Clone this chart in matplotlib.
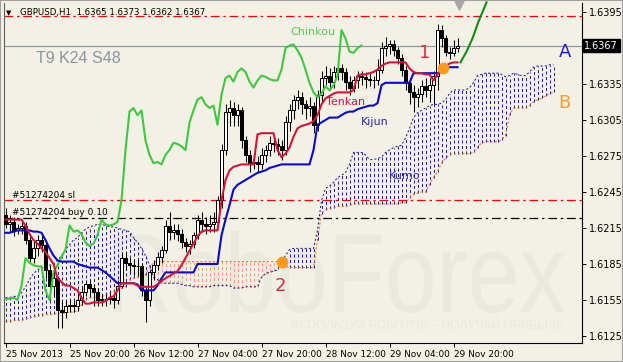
import numpy as np
import matplotlib
matplotlib.use("Agg")
import matplotlib.pyplot as plt
from matplotlib.textpath import TextPath
from matplotlib.patches import PathPatch
from matplotlib.font_manager import FontProperties
from matplotlib.transforms import Affine2D

W, H = 623, 362
BG = "#f3f1e5"
WM = "#eae9de"

# --- GBPUSD H1 candles ---
opens = np.array([
    1.6226, 1.6218, 1.6220, 1.6213, 1.6215, 1.6217, 1.6205, 1.6190, 1.6198, 1.6205,
    1.6201, 1.6180, 1.6167, 1.6173, 1.6147, 1.6145, 1.6150, 1.6151, 1.6150, 1.6155,
    1.6162, 1.6168, 1.6165, 1.6162, 1.6155, 1.6156, 1.6156, 1.6157, 1.6155, 1.6167,
    1.6190, 1.6186, 1.6184, 1.6183, 1.6183, 1.6163, 1.6155, 1.6178, 1.6184, 1.6191,
    1.6197, 1.6217, 1.6212, 1.6213, 1.6210, 1.6203, 1.6200, 1.6202, 1.6209, 1.6222,
    1.6218, 1.6217, 1.6218, 1.6220, 1.6238, 1.6280, 1.6312, 1.6315, 1.6309, 1.6313,
    1.6288, 1.6276, 1.6269, 1.6270, 1.6268, 1.6276, 1.6280, 1.6286, 1.6285, 1.6283,
    1.6280, 1.6303, 1.6313, 1.6322, 1.6324, 1.6318, 1.6315, 1.6317, 1.6301, 1.6326,
    1.6340, 1.6342, 1.6337, 1.6345, 1.6348, 1.6345, 1.6337, 1.6332, 1.6338, 1.6342,
    1.6341, 1.6339, 1.6338, 1.6338, 1.6347, 1.6365, 1.6367, 1.6368, 1.6363, 1.6357,
    1.6347, 1.6336, 1.6328, 1.6324, 1.6327, 1.6333, 1.6330, 1.6334, 1.6342, 1.6380,
    1.6373, 1.6362, 1.6361, 1.6365])
closes = np.array([
    1.6218, 1.6220, 1.6213, 1.6215, 1.6217, 1.6205, 1.6190, 1.6198, 1.6205, 1.6201,
    1.6180, 1.6167, 1.6173, 1.6147, 1.6145, 1.6150, 1.6151, 1.6150, 1.6155, 1.6162,
    1.6168, 1.6165, 1.6162, 1.6155, 1.6156, 1.6156, 1.6157, 1.6155, 1.6167, 1.6190,
    1.6186, 1.6184, 1.6183, 1.6183, 1.6163, 1.6155, 1.6178, 1.6184, 1.6191, 1.6197,
    1.6217, 1.6212, 1.6213, 1.6210, 1.6203, 1.6200, 1.6202, 1.6209, 1.6222, 1.6218,
    1.6217, 1.6218, 1.6220, 1.6238, 1.6280, 1.6312, 1.6315, 1.6309, 1.6313, 1.6288,
    1.6276, 1.6269, 1.6270, 1.6268, 1.6276, 1.6280, 1.6286, 1.6285, 1.6283, 1.6280,
    1.6303, 1.6313, 1.6322, 1.6324, 1.6318, 1.6315, 1.6317, 1.6301, 1.6326, 1.6340,
    1.6342, 1.6337, 1.6345, 1.6348, 1.6345, 1.6337, 1.6332, 1.6338, 1.6342, 1.6341,
    1.6339, 1.6338, 1.6338, 1.6347, 1.6365, 1.6367, 1.6368, 1.6363, 1.6357, 1.6347,
    1.6336, 1.6328, 1.6324, 1.6327, 1.6333, 1.6330, 1.6334, 1.6342, 1.6380, 1.6373,
    1.6362, 1.6361, 1.6365, 1.6367])
highs = np.array([
    1.6232, 1.6226, 1.6224, 1.6218, 1.6220, 1.6220, 1.6208, 1.6204, 1.6209, 1.6210,
    1.6203, 1.6184, 1.6180, 1.6175, 1.6155, 1.6155, 1.6155, 1.6155, 1.6160, 1.6166,
    1.6172, 1.6172, 1.6168, 1.6165, 1.6160, 1.6160, 1.6162, 1.6160, 1.6172, 1.6195,
    1.6195, 1.6190, 1.6188, 1.6188, 1.6186, 1.6166, 1.6180, 1.6188, 1.6195, 1.6200,
    1.6222, 1.6228, 1.6218, 1.6218, 1.6214, 1.6207, 1.6205, 1.6212, 1.6226, 1.6228,
    1.6224, 1.6226, 1.6228, 1.6242, 1.6285, 1.6318, 1.6322, 1.6320, 1.6318, 1.6316,
    1.6292, 1.6280, 1.6276, 1.6275, 1.6282, 1.6284, 1.6292, 1.6292, 1.6290, 1.6288,
    1.6308, 1.6318, 1.6326, 1.6330, 1.6328, 1.6322, 1.6324, 1.6320, 1.6330, 1.6346,
    1.6350, 1.6348, 1.6350, 1.6354, 1.6352, 1.6348, 1.6342, 1.6342, 1.6346, 1.6346,
    1.6345, 1.6344, 1.6342, 1.6356, 1.6370, 1.6374, 1.6372, 1.6372, 1.6366, 1.6360,
    1.6350, 1.6340, 1.6334, 1.6332, 1.6338, 1.6340, 1.6340, 1.6346, 1.6385, 1.6384,
    1.6376, 1.6366, 1.6372, 1.6373])
lows = np.array([
    1.6215, 1.6212, 1.6208, 1.6210, 1.6210, 1.6202, 1.6186, 1.6186, 1.6192, 1.6195,
    1.6173, 1.6155, 1.6158, 1.6132, 1.6132, 1.6140, 1.6145, 1.6145, 1.6146, 1.6151,
    1.6158, 1.6158, 1.6150, 1.6150, 1.6150, 1.6150, 1.6152, 1.6148, 1.6152, 1.6165,
    1.6180, 1.6178, 1.6176, 1.6176, 1.6158, 1.6137, 1.6150, 1.6172, 1.6180, 1.6186,
    1.6194, 1.6205, 1.6206, 1.6204, 1.6198, 1.6195, 1.6193, 1.6198, 1.6206, 1.6212,
    1.6210, 1.6212, 1.6212, 1.6216, 1.6232, 1.6276, 1.6300, 1.6300, 1.6300, 1.6282,
    1.6270, 1.6262, 1.6264, 1.6262, 1.6264, 1.6270, 1.6275, 1.6278, 1.6276, 1.6272,
    1.6276, 1.6296, 1.6306, 1.6314, 1.6310, 1.6306, 1.6308, 1.6294, 1.6296, 1.6320,
    1.6334, 1.6330, 1.6332, 1.6338, 1.6338, 1.6330, 1.6326, 1.6328, 1.6332, 1.6334,
    1.6332, 1.6333, 1.6332, 1.6334, 1.6344, 1.6358, 1.6360, 1.6358, 1.6352, 1.6342,
    1.6330, 1.6318, 1.6312, 1.6316, 1.6320, 1.6324, 1.6320, 1.6318, 1.6330, 1.6366,
    1.6358, 1.6356, 1.6358, 1.6362])

# --- Ichimoku (9, 24, 48) ---
tenkan = np.array([
    1.6222, 1.6222, 1.6222, 1.6222, 1.6222, 1.6217, 1.6210, 1.6205, 1.6202, 1.6198,
    1.6195, 1.6190, 1.6185, 1.6173, 1.6170, 1.6167, 1.6167, 1.6165, 1.6163, 1.6157,
    1.6152, 1.6152, 1.6153, 1.6153, 1.6153, 1.6154, 1.6157, 1.6158, 1.6163, 1.6169,
    1.6169, 1.6169, 1.6169, 1.6167, 1.6166, 1.6166, 1.6166, 1.6166, 1.6168, 1.6171,
    1.6173, 1.6175, 1.6177, 1.6179, 1.6184, 1.6190, 1.6196, 1.6202, 1.6208, 1.6212,
    1.6213, 1.6213, 1.6213, 1.6213, 1.6238, 1.6255, 1.6263, 1.6266, 1.6267, 1.6268,
    1.6268, 1.6268, 1.6268, 1.6293, 1.6294, 1.6294, 1.6294, 1.6294, 1.6280, 1.6274,
    1.6277, 1.6282, 1.6291, 1.6298, 1.6300, 1.6301, 1.6302, 1.6304, 1.6309, 1.6318,
    1.6323, 1.6325, 1.6327, 1.6328, 1.6328, 1.6328, 1.6328, 1.6330, 1.6342, 1.6343,
    1.6343, 1.6344, 1.6345, 1.6347, 1.6350, 1.6352, 1.6353, 1.6353, 1.6353, 1.6353,
    1.6353, 1.6348, 1.6345, 1.6344, 1.6344, 1.6343, 1.6343, 1.6338, 1.6343, 1.6348,
    1.6350, 1.6352, 1.6353, 1.6353])
kijun = np.array([
    1.6211, 1.6211, 1.6212, 1.6213, 1.6213, 1.6213, 1.6213, 1.6212, 1.6212, 1.6211,
    1.6205, 1.6198, 1.6192, 1.6188, 1.6187, 1.6187, 1.6187, 1.6187, 1.6185, 1.6184,
    1.6183, 1.6182, 1.6182, 1.6182, 1.6180, 1.6178, 1.6175, 1.6172, 1.6169, 1.6169,
    1.6169, 1.6169, 1.6169, 1.6168, 1.6163, 1.6163, 1.6163, 1.6163, 1.6167, 1.6173,
    1.6178, 1.6178, 1.6178, 1.6178, 1.6178, 1.6178, 1.6178, 1.6178, 1.6185, 1.6185,
    1.6185, 1.6185, 1.6185, 1.6185, 1.6209, 1.6222, 1.6234, 1.6247, 1.6251, 1.6253,
    1.6255, 1.6257, 1.6259, 1.6261, 1.6262, 1.6263, 1.6265, 1.6266, 1.6267, 1.6268,
    1.6268, 1.6268, 1.6268, 1.6268, 1.6268, 1.6268, 1.6268, 1.6280, 1.6301, 1.6303,
    1.6305, 1.6307, 1.6307, 1.6307, 1.6309, 1.6311, 1.6312, 1.6312, 1.6314, 1.6315,
    1.6316, 1.6317, 1.6317, 1.6319, 1.6334, 1.6336, 1.6336, 1.6336, 1.6336, 1.6336,
    1.6336, 1.6336, 1.6344, 1.6344, 1.6344, 1.6344, 1.6344, 1.6344, 1.6344, 1.6345,
    1.6348, 1.6349, 1.6349, 1.6349])
senkou_a = np.array([
    1.6157, 1.6157, 1.6158, 1.6158, 1.6161, 1.6166, 1.6172, 1.6177, 1.6180, 1.6182,
    1.6183, 1.6184, 1.6185, 1.6188, 1.6192, 1.6197, 1.6201, 1.6205, 1.6207, 1.6211,
    1.6214, 1.6216, 1.6217, 1.6218, 1.6218, 1.6217, 1.6216, 1.6216, 1.6215, 1.6214,
    1.6213, 1.6212, 1.6207, 1.6203, 1.6198, 1.6192, 1.6184, 1.6174, 1.6172, 1.6169,
    1.6169, 1.6169, 1.6169, 1.6169, 1.6168, 1.6167, 1.6167, 1.6166, 1.6166, 1.6166,
    1.6166, 1.6166, 1.6167, 1.6167, 1.6167, 1.6167, 1.6167, 1.6165, 1.6165, 1.6165,
    1.6166, 1.6166, 1.6166, 1.6166, 1.6174, 1.6177, 1.6178, 1.6179, 1.6180, 1.6187,
    1.6192, 1.6197, 1.6198, 1.6198, 1.6198, 1.6198, 1.6198, 1.6198, 1.6213, 1.6238,
    1.6248, 1.6250, 1.6253, 1.6257, 1.6259, 1.6261, 1.6268, 1.6278, 1.6278, 1.6278,
    1.6276, 1.6272, 1.6272, 1.6273, 1.6274, 1.6278, 1.6280, 1.6282, 1.6283, 1.6284,
    1.6290, 1.6298, 1.6307, 1.6311, 1.6313, 1.6315, 1.6317, 1.6318, 1.6318, 1.6319,
    1.6322, 1.6327, 1.6330, 1.6330, 1.6330, 1.6330, 1.6332, 1.6336, 1.6342, 1.6343,
    1.6344, 1.6344, 1.6344, 1.6344, 1.6343, 1.6341, 1.6342, 1.6344, 1.6343, 1.6342,
    1.6342, 1.6345, 1.6349, 1.6350, 1.6350, 1.6350, 1.6351, 1.6351])
senkou_b = np.array([
    1.6137, 1.6137, 1.6138, 1.6138, 1.6138, 1.6139, 1.6140, 1.6141, 1.6142, 1.6142,
    1.6143, 1.6143, 1.6143, 1.6144, 1.6144, 1.6144, 1.6145, 1.6145, 1.6146, 1.6151,
    1.6155, 1.6157, 1.6157, 1.6158, 1.6158, 1.6159, 1.6161, 1.6162, 1.6163, 1.6165,
    1.6166, 1.6172, 1.6173, 1.6174, 1.6174, 1.6176, 1.6182, 1.6186, 1.6187, 1.6187,
    1.6187, 1.6187, 1.6187, 1.6187, 1.6187, 1.6187, 1.6187, 1.6187, 1.6187, 1.6187,
    1.6187, 1.6187, 1.6187, 1.6187, 1.6187, 1.6187, 1.6187, 1.6187, 1.6187, 1.6187,
    1.6187, 1.6187, 1.6187, 1.6187, 1.6187, 1.6187, 1.6187, 1.6187, 1.6187, 1.6186,
    1.6183, 1.6182, 1.6182, 1.6182, 1.6182, 1.6182, 1.6182, 1.6182, 1.6205, 1.6227,
    1.6230, 1.6231, 1.6232, 1.6233, 1.6233, 1.6233, 1.6234, 1.6235, 1.6235, 1.6235,
    1.6235, 1.6235, 1.6235, 1.6235, 1.6235, 1.6235, 1.6235, 1.6235, 1.6235, 1.6236,
    1.6236, 1.6240, 1.6243, 1.6244, 1.6245, 1.6245, 1.6251, 1.6257, 1.6262, 1.6269,
    1.6273, 1.6276, 1.6277, 1.6277, 1.6277, 1.6277, 1.6277, 1.6278, 1.6282, 1.6286,
    1.6287, 1.6287, 1.6287, 1.6287, 1.6288, 1.6292, 1.6309, 1.6315, 1.6315, 1.6315,
    1.6315, 1.6317, 1.6320, 1.6322, 1.6323, 1.6325, 1.6327, 1.6328])
kijun_period = 24  # chinkou shift

# order levels and markers
tp_price = 1.6392
sl_price = 1.6238
buy_price = 1.6223
bid_price = 1.6367
signal_bars = [109.25, 69.0]
signal_prices = [1.6348, 1.6187]
forecast_bars = [113.75, 115.25, 116.75, 118.25, 120.25]
forecast_prices = [1.6353, 1.6362, 1.6373, 1.6387, 1.6403]

time_ticks = [0, 16, 32, 48, 64, 80, 96, 112]
time_labels = ["25 Nov 2013", "25 Nov 20:00", "26 Nov 12:00", "27 Nov 04:00",
               "27 Nov 20:00", "28 Nov 12:00", "29 Nov 04:00", "29 Nov 20:00"]
price_ticks = [1.6395, 1.6335, 1.6305, 1.6275, 1.6245, 1.6215, 1.6185, 1.6155, 1.6125]

# ---------------------------------------------------------------
fig = plt.figure(figsize=(W / 100, H / 100), dpi=100, facecolor=BG)
ax = fig.add_axes([4 / W, (H - 343) / H, 578 / W, 340 / H])
ax.set_facecolor(BG)
# 4 px per bar, bar centres on pixel centres
ax.set_xlim(-0.375, 144.125)
ax.set_ylim(1.611917, 1.64025)

# watermark (narrowed Liberation Sans, placed in pixels)
wm = TextPath((0, 0), "RoboForex", size=112, prop=FontProperties(family="Liberation Sans"))
ext = wm.get_extents()
sx = 452 / ext.width
ax.add_patch(PathPatch(wm, transform=Affine2D().scale(sx, 1).translate(113 - ext.x0 * sx, H - 312),
                       facecolor=WM, edgecolor="none", zorder=0.5, clip_on=False))
fig.text(427 / W, 1 - 326 / H, "ИСПОЛЬЗУЙ РОБОТОВ – ПОЛУЧАЙ ПРИБЫЛЬ", fontsize=8.7,
         family="Liberation Sans", color=WM, ha="center", va="center", zorder=0.5)

# kumo
KUMO_BLUE = "#22228e"
j = np.arange(len(senkou_a))
bull = senkou_a >= senkou_b
ax.vlines(j[bull], senkou_b[bull], senkou_a[bull], colors=KUMO_BLUE, lw=0.72,
          linestyles=(0, (3, 2.5)), zorder=1)
ax.vlines(j[~bull], senkou_a[~bull], senkou_b[~bull], colors="#f29a70", lw=0.72,
          linestyles=(0, (3, 2.5)), zorder=1)
ax.plot(j, senkou_a, color=KUMO_BLUE, lw=0.75, ls=(0, (2, 2)), zorder=1)
ax.plot(j, senkou_b, color="#ec6a2a", lw=0.75, ls=(0, (2, 2)), zorder=1)

# order lines
ax.axhline(tp_price, color="#ff0000", lw=0.9, ls=(0, (7, 3, 2, 3)), zorder=1)
ax.axhline(sl_price, color="#ff0000", lw=0.9, ls=(0, (7, 3, 2, 3)), zorder=1)
ax.axhline(buy_price, color="#000000", lw=0.9, ls=(0, (7, 3, 2, 3)), zorder=1)
ax.axhline(bid_price, color="#8e9aa6", lw=0.9, zorder=1)

# candles
x = np.arange(len(closes))
up = closes >= opens
ax.vlines(x, lows, highs, color="black", lw=0.75, zorder=3)
ax.bar(x[up], (closes - opens)[up], bottom=opens[up], width=0.55, color="white",
       edgecolor="black", lw=0.72, zorder=3)
ax.bar(x[~up], (closes - opens)[~up], bottom=opens[~up], width=0.55, color="black",
       edgecolor="black", lw=0.72, zorder=3)

# ichimoku lines
ax.plot(x[:-kijun_period], closes[kijun_period:], color="#3ec83e", lw=1.5, zorder=4)
ax.plot(x, kijun, color="#0a0ac8", lw=1.5, zorder=4)
ax.plot(x, tenkan, color="#d2143c", lw=1.5, zorder=4)

ax.plot(forecast_bars, forecast_prices, color="#118a11", lw=1.5, zorder=4,
        clip_on=False)
ax.scatter(signal_bars, signal_prices, s=55, color="#ff9a1a", zorder=5)
ax.scatter([113.25], [1.64005], marker="v", s=45, color="#a8a8a8", zorder=5,
           clip_on=False)

# labels
lab = dict(fontsize=8, va="center", zorder=6)
ax.text(71.25, 1.6378, "Chinkou", color="#55c855", **lab)
ax.text(80.0, 1.6320, "Tenkan", color="#d2143c", **lab)
ax.text(88.75, 1.6303, "Kijun", color="#2828a0", **lab)
ax.text(95.75, 1.6258, "Kumo", color="#3030b0", **lab)
ax.text(104.75, 1.6361, "1", color="#d23246", fontsize=13, ha="center", va="center")
ax.text(68.75, 1.6167, "2", color="#d23246", fontsize=13, ha="center", va="center")
ax.text(140.0, 1.6362, "A", color="#2020c0", fontsize=13, ha="center", va="center")
ax.text(139.75, 1.6319, "B", color="#ff9a2a", fontsize=13, ha="center", va="center")
ax.text(7.5, 1.6356, "T9 K24 S48", color="#8a96a2", fontsize=11.5,
        family="Liberation Sans", va="center")
ax.text(1.75, 1.6242, "#51274204 sl", fontsize=6.5, va="center")
ax.text(1.75, 1.6228, "#51274204 buy 0.10", fontsize=6.5, va="center")
fig.text(20 / W, 1 - 12.5 / H, "GBPUSD,H1  1.6365 1.6373 1.6362 1.6367",
         fontsize=6.2, va="center")
fig.text(6 / W, 1 - 13 / H, "▼", fontsize=5, va="center")

# axes
ax.spines["top"].set_visible(False)
ax.spines["left"].set_color("#606060")
ax.spines["right"].set_color("black")
ax.spines["bottom"].set_color("black")
ax.yaxis.tick_right()
ax.set_yticks(price_ticks)
ax.set_yticklabels([f"{p:.4f}" for p in price_ticks])
ax.tick_params(axis="y", labelsize=7, length=3, pad=2, width=0.7)
ax.set_xticks(time_ticks)
ax.set_xticklabels(time_labels, ha="left")
ax.tick_params(axis="x", labelsize=6.4, length=3, pad=2, width=0.7)
ax.text(1.004, bid_price, "1.6367", transform=ax.get_yaxis_transform(),
        color="white", fontsize=7, va="center", ha="left",
        bbox=dict(facecolor="black", edgecolor="black", pad=1.2), zorder=6)

fig.add_artist(plt.Rectangle((0, 0), 1, 1, transform=fig.transFigure, fill=False,
                             edgecolor="#a0a0a0", lw=1.5))
fig.savefig("out.png", dpi=100, facecolor=BG)
